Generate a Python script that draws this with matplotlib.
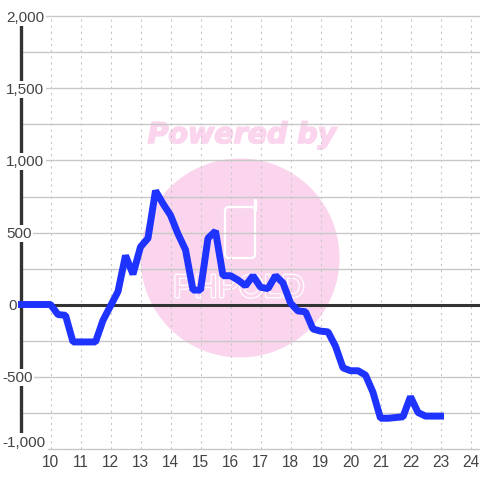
import matplotlib
matplotlib.use('Agg')
import matplotlib.pyplot as plt
import matplotlib.patheffects as pe
from matplotlib.patches import Circle, FancyBboxPatch

# readings every quarter unit on the x axis
hours = [9, 9.25, 9.5, 9.75, 10, 10.25, 10.5, 10.75, 11, 11.25, 11.5, 11.75,
         12, 12.25, 12.5, 12.75, 13, 13.25, 13.5, 13.75, 14, 14.25, 14.5, 14.75,
         15, 15.25, 15.5, 15.75, 16, 16.25, 16.5, 16.75, 17, 17.25, 17.5, 17.75,
         18, 18.25, 18.5, 18.75, 19, 19.25, 19.5, 19.75, 20, 20.25, 20.5, 20.75,
         21, 21.25, 21.5, 21.75, 22, 22.25, 22.5, 22.75, 23]
values = [0, 0, 0, 0, 0, -70, -75, -260, -260, -260, -260, -110,
          -10, 90, 340, 210, 400, 460, 790, 700, 620, 490, 380, 100,
          100, 460, 510, 200, 200, 170, 130, 200, 120, 110, 200, 150,
          10, -45, -50, -170, -185, -190, -290, -440, -460, -460, -490, -610,
          -790, -790, -785, -780, -640, -750, -775, -775, -775]
x_ticks = list(range(10, 25))
y_labels = {2000: '2,000', 1500: '1,500', 1000: '1,000', 500: '500',
            0: '0', -500: '-500', -1000: '-1,000'}
y_minor = [1750, 1250, 750, 250, -250, -750]

plt.rcParams['font.family'] = ['Liberation Sans', 'DejaVu Sans']

fig = plt.figure(figsize=(4.8, 4.8), dpi=100)
bg = fig.add_axes([0, 0, 1, 1], zorder=0)
bg.set_xlim(0, 480)
bg.set_ylim(480, 0)
bg.axis('off')

# watermark
pink = '#fbd5ed'
bg.add_patch(Circle((240, 258), 99.5, fc=pink, ec='none'))
bg.text(242, 135, 'Powered by', color=pink, fontsize=20.5, fontweight='bold',
        fontstyle='italic', family='DejaVu Sans', ha='center', va='center',
        path_effects=[pe.withStroke(linewidth=1.2, foreground=pink)])
bg.add_patch(FancyBboxPatch((225, 207), 30, 51, boxstyle='round,pad=0,rounding_size=4',
                            fc='none', ec='white', lw=1.6))
bg.plot([254.5, 254.5], [200, 210], color='white', lw=2.4, solid_capstyle='round')
bg.text(239, 289, 'PHPOLD', color=pink, fontsize=23, family='Liberation Sans',
        ha='center', va='center',
        path_effects=[pe.withStroke(linewidth=2.0, foreground='white'), pe.Normal()])

ax = fig.add_axes([20.5 / 480, 1 - 448.5 / 480, 459.5 / 480, 432 / 480], zorder=1)
ax.patch.set_alpha(0)
ax.set_xlim(9, 9 + 459.5 / 30)
ax.set_ylim(-1000, 2000)
for side in ['top', 'right', 'bottom', 'left']:
    ax.spines[side].set_visible(False)

grid_color = '#c8c8c8'
for v in list(y_labels) + y_minor:
    if v != 0:
        ax.axhline(v, color=grid_color, lw=1.0, zorder=1, clip_on=False)
for t in x_ticks:
    ax.axvline(t, color=grid_color, lw=0.8, ls=(0, (2, 3.5)), zorder=1)

ax.axhline(0, color='#333333', lw=2.2, zorder=2)
ax.plot([9, 9], [-1000, 2000], color='#333333', lw=2.4, solid_capstyle='butt',
        zorder=2, clip_on=False)

ax.plot(hours, values, color='#1f33ff', lw=5.0, solid_joinstyle='bevel',
        solid_capstyle='projecting', zorder=3, clip_on=False)

ax.set_xticks(x_ticks)
ax.set_xticklabels([str(t) for t in x_ticks], fontsize=11.2, color='#444444')
ax.tick_params(axis='x', length=0, pad=5)
ax.set_yticks([])

# y labels sit on the axis, white box cuts the axis and grid lines
for v, label in y_labels.items():
    px_left = 2 if v < 0 else (8 if v == 0 else 6)
    y_off = 6.5 if v == -1000 else 0
    label_y = 304.5 - v * 0.144 - y_off + 1.0
    pad = 2.2 if v == -1000 else 1.2
    fig.text(px_left / 480, 1 - label_y / 480, label, fontsize=11, color='#444444',
             ha='left', va='center', zorder=5,
             bbox=dict(fc='white', ec='none', pad=pad))

fig.savefig('out.png', dpi=100)
